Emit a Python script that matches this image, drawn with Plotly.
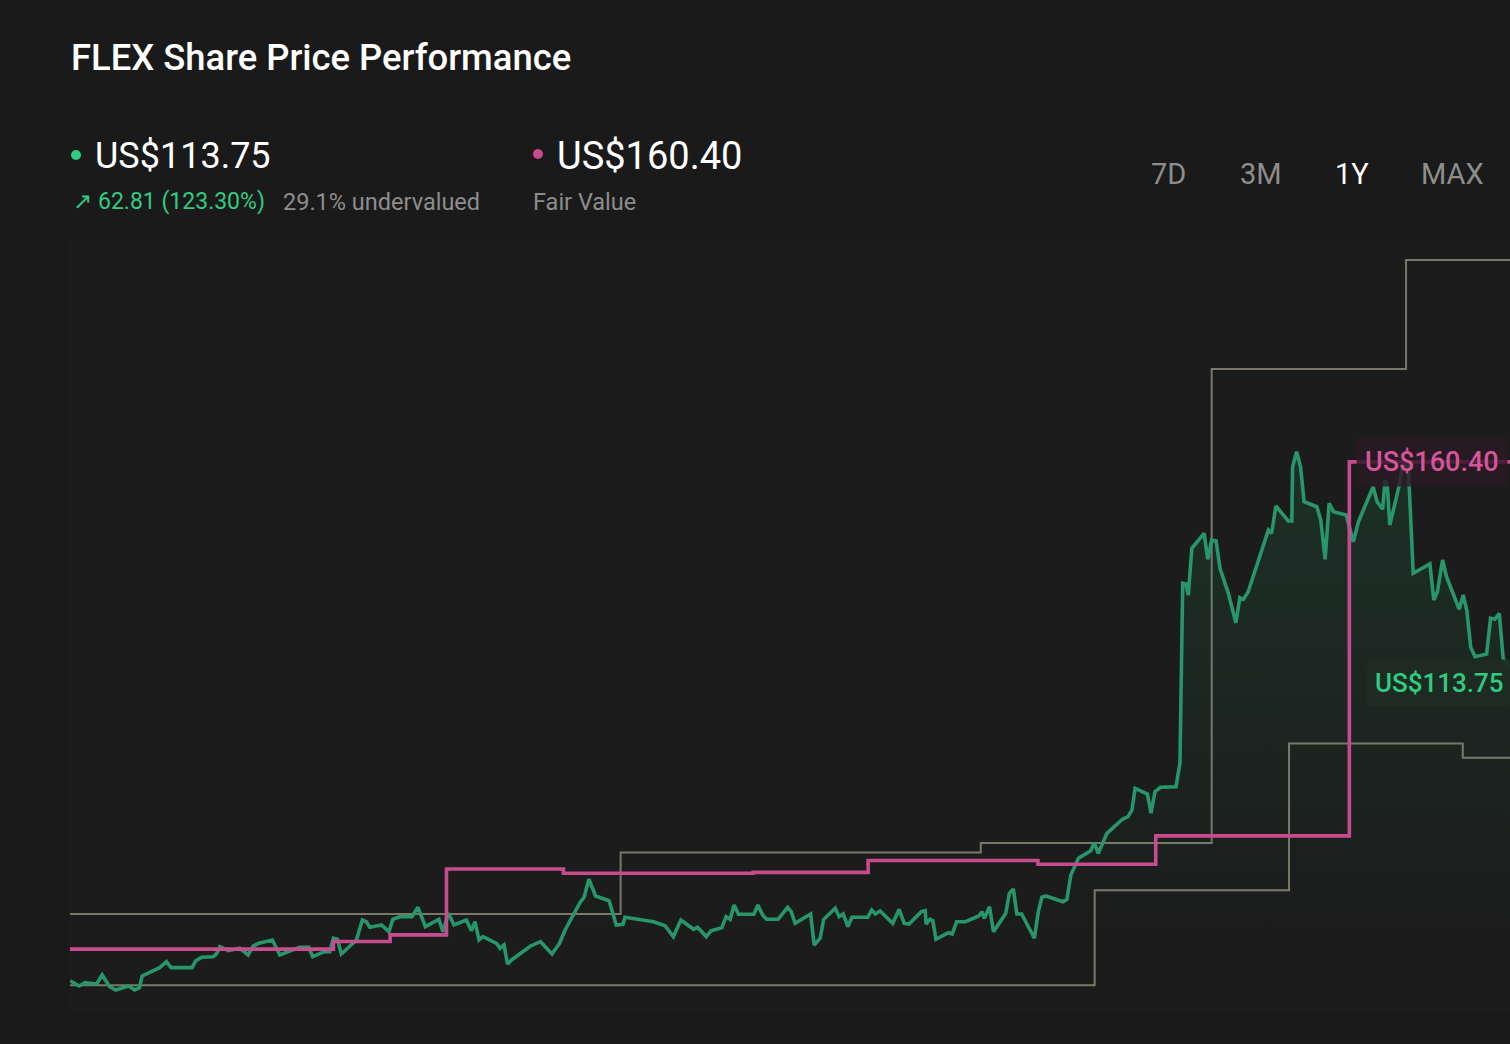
import plotly.graph_objects as go

W, H = 1510, 1044

# ---- data (day offset inside the 1-year window, value in US$) ----
price_days = [
    0.0, 2.3, 3.8, 6.7, 8.1, 10.0, 11.5, 14.8, 16.3, 17.5, 18.2, 22.6, 24.3, 25.5, 30.8,
    31.7, 33.2, 36.1, 37.0, 37.8, 39.9, 42.8, 44.9, 46.2, 47.6, 51.0, 52.9, 57.8, 60.2,
    61.2, 64.1, 65.5, 66.4, 67.4, 68.4, 72.2, 73.7, 74.7, 75.6, 78.5, 80.4, 81.4, 83.3,
    86.2, 87.7, 89.6, 93.0, 94.0, 95.4, 96.8, 99.9, 101.2, 102.1, 103.1, 104.1, 107.5,
    108.4, 109.4, 110.3, 111.3, 116.1, 118.6, 121.5, 123.4, 124.8, 128.7, 129.6, 130.8,
    132.5, 135.9, 137.7, 139.4, 139.9, 142.8, 147.1, 150.0, 152.1, 154.0, 157.2, 158.2,
    160.4, 161.6, 164.3, 165.4, 166.4, 167.4, 168.5, 172.4, 173.4, 174.6, 175.6, 178.5,
    180.9, 181.8, 182.8, 186.7, 187.6, 189.1, 190.0, 192.9, 193.9, 194.9, 196.1, 197.1,
    201.1, 202.1, 203.0, 204.2, 207.4, 209.0, 210.3, 211.5, 214.6, 215.6, 215.8, 216.8,
    217.5, 218.3, 221.4, 222.4, 223.5, 225.7, 229.1, 229.9, 230.5, 231.8, 232.8, 235.9,
    236.8, 237.8, 238.7, 239.9, 243.1, 244.1, 245.0, 246.0, 250.3, 251.3, 252.3, 254.2,
    257.3, 258.2, 259.2, 261.4, 265.3, 266.7, 267.7, 268.5, 271.6, 272.5, 273.5, 274.9,
    278.8, 279.8, 280.5, 281.3, 281.9, 282.8, 285.9, 286.8, 287.8, 288.9, 289.9, 292.0,
    293.9, 294.9, 295.8, 297.0, 302.1, 302.9, 304.0, 307.1, 308.0, 308.2, 309.2, 310.2,
    311.1, 314.3, 315.3, 316.4, 317.4, 318.5, 321.7, 322.5, 323.5, 324.8, 328.5, 329.5,
    330.9, 331.5, 332.1, 332.7, 335.1, 335.7, 337.3, 338.6, 342.8, 343.8, 344.7, 346.0,
    347.0, 350.2, 351.2, 352.1, 353.1, 354.2, 357.1, 358.1, 359.2, 360.3, 361.3, 363.0,
    365.0,
]
price_values = [
    50.94, 49.83, 50.52, 50.25, 52.15, 49.68, 48.98, 49.83, 48.98, 49.47, 51.94, 53.69,
    54.95, 53.69, 53.69, 55.16, 55.88, 56.00, 56.72, 58.12, 57.27, 57.78, 56.37, 58.27,
    58.83, 59.53, 56.37, 57.99, 57.99, 56.00, 57.06, 57.06, 59.89, 59.68, 56.58, 59.53,
    63.75, 63.39, 62.21, 62.69, 61.28, 63.90, 64.45, 64.45, 66.43, 62.34, 63.90, 61.28,
    65.16, 62.69, 63.75, 61.49, 63.39, 59.53, 60.23, 58.83, 57.78, 58.48, 54.47, 55.31,
    58.27, 59.18, 56.58, 58.83, 61.64, 67.61, 68.54, 72.34, 68.81, 67.82, 62.69, 62.84,
    64.32, 63.90, 63.39, 62.55, 60.23, 63.75, 61.79, 62.21, 60.23, 61.49, 62.13, 64.45,
    63.90, 66.91, 64.95, 64.95, 66.91, 64.80, 63.90, 63.90, 66.43, 65.50, 63.05, 65.02,
    58.48, 59.89, 63.90, 66.22, 64.45, 65.02, 62.34, 64.32, 64.32, 65.86, 65.02, 65.65,
    63.05, 66.01, 63.05, 62.91, 65.50, 65.71, 62.91, 63.90, 63.61, 59.68, 61.07, 60.80,
    63.39, 63.39, 64.59, 65.50, 64.11, 66.56, 61.28, 65.16, 69.38, 70.29, 65.02, 65.02,
    59.89, 65.50, 68.54, 68.81, 67.61, 68.12, 73.26, 76.77, 78.37, 80.06, 77.82, 82.04,
    85.00, 85.54, 86.96, 91.53, 90.33, 86.26, 90.82, 91.75, 91.87, 96.81, 134.78, 134.64,
    132.31, 142.17, 145.33, 139.85, 143.92, 143.77, 137.95, 132.67, 126.47, 131.75,
    131.41, 133.01, 146.03, 145.33, 151.09, 147.93, 147.93, 159.38, 162.55, 159.38,
    152.00, 150.94, 148.14, 139.85, 151.66, 149.89, 149.19, 146.72, 143.56, 147.78,
    155.16, 152.00, 150.40, 156.58, 155.16, 147.08, 155.52, 158.69, 160.50, 136.89,
    138.86, 131.26, 133.01, 139.70, 136.18, 129.30, 132.31, 129.15, 121.28, 119.30,
    119.87, 127.40, 127.19, 128.45, 118.75, 117.55, 113.75,
]

fair_value_days = [0, 66.4, 80.7, 94.9, 124.4, 172.2, 201.2, 244.0, 273.7, 322.5, 365]
fair_value_values = [57.6, 59.2, 60.6, 74.5, 73.6, 73.8, 76.3, 75.5, 81.5, 160.4, 160.4]

target_high_days = [0, 138.8, 229.6, 287.8, 336.8, 365]
target_high_values = [65, 78, 80, 180, 203, 203]
target_low_days = [0, 258.3, 307.3, 351.1, 365]
target_low_values = [50, 70, 101, 98, 98]

last_price = 113.75
fair_value = 160.40
price_change = "62.81 (123.30%)"
valuation_text = "29.1% undervalued"
period_buttons = ["7D", "3M", "1Y", "MAX"]
active_button = "1Y"

# ---- styling ----
BG = "#1a1a1a"
PLOT_BG = "#1b1c1b"
GREEN_LINE = "#27966a"
GREEN_TEXT = "#2fcc82"
PINK = "#c84b8f"
GREY_LINE = "#7b786a"
GREY_TEXT = "#8d8d8d"
FONT = "Roboto"


def px(x):
    return x / W


def py(y):
    return 1 - y / H


fig = go.Figure()

fig.add_trace(go.Scatter(
    x=target_high_days, y=target_high_values, mode="lines",
    line=dict(color=GREY_LINE, width=2, shape="hv"), hoverinfo="skip",
))
fig.add_trace(go.Scatter(
    x=target_low_days, y=target_low_values, mode="lines",
    line=dict(color=GREY_LINE, width=2, shape="hv"), hoverinfo="skip",
))
fig.add_trace(go.Scatter(
    x=price_days, y=price_values, mode="lines",
    line=dict(color=GREEN_LINE, width=3.6),
    fill="tozeroy",
    fillgradient=dict(
        type="vertical",
        colorscale=[[0, "rgba(39,150,106,0)"], [1, "rgba(39,150,106,0.17)"]],
        start=60, stop=165,
    ),
    hoverinfo="skip",
))
fig.add_trace(go.Scatter(
    x=fair_value_days, y=fair_value_values, mode="lines",
    line=dict(color=PINK, width=3.6, shape="hv"), hoverinfo="skip",
))

annotations = []


def text(s, x, y, size, color, anchor="left", weight=400, **kw):
    annotations.append(dict(
        text=s, x=px(x), y=py(y), xref="paper", yref="paper",
        xanchor=anchor, yanchor="middle", showarrow=False,
        font=dict(family=FONT, size=size, color=color, weight=weight), **kw,
    ))


text("FLEX Share Price Performance", 69, 57, 36.4, "#ffffff", weight=500)
text(f"US${last_price:.2f}", 93, 156, 36, "#ffffff")
text(f"US${fair_value:.2f}", 555, 156, 38, "#ffffff")
text("↗", 71, 202, 23, GREEN_TEXT)
text(price_change, 96, 202, 23, GREEN_TEXT)
text(valuation_text, 281, 202, 23.5, GREY_TEXT)
text("Fair Value", 531, 202, 23.5, GREY_TEXT)
for label, cx in zip(period_buttons, [1168, 1261, 1352, 1452]):
    text(label, cx, 174, 29, "#ffffff" if label == active_button else GREY_TEXT, anchor="center")

# value labels on the right
annotations.append(dict(
    text=f"US${fair_value:.2f}", x=324.2, y=fair_value, xref="x", yref="y",
    xanchor="left", yanchor="middle", showarrow=False,
    font=dict(family=FONT, size=27, color="#d4559a", weight=500),
    bgcolor="rgba(44,26,38,0.82)", borderpad=8,
))
annotations.append(dict(
    text=f"US${last_price:.2f}", x=326.7, y=last_price, xref="x", yref="y",
    xanchor="left", yanchor="middle", showarrow=False,
    font=dict(family=FONT, size=26, color=GREEN_TEXT, weight=500),
    bgcolor="rgba(29,43,35,0.92)", borderpad=8,
))

shapes = [
    dict(type="circle", xref="paper", yref="paper",
         x0=px(71), x1=px(81), y0=py(160), y1=py(150),
         fillcolor=GREEN_TEXT, line=dict(width=0)),
    dict(type="circle", xref="paper", yref="paper",
         x0=px(533), x1=px(543), y0=py(159), y1=py(149),
         fillcolor=PINK, line=dict(width=0)),
]

fig.update_layout(
    width=W, height=H,
    margin=dict(l=0, r=0, t=0, b=0),
    paper_bgcolor=BG, plot_bgcolor=PLOT_BG,
    showlegend=False,
    annotations=annotations, shapes=shapes,
    xaxis=dict(domain=[70 / W, 1], range=[0, 363.0], visible=False, fixedrange=True),
    yaxis=dict(domain=[1 - 1010 / H, 1 - 240 / H], range=[44.76, 207.21],
               visible=False, fixedrange=True),
)

fig.write_html(
    "out.html",
    config={"displayModeBar": False},
    post_script="document.body.style.margin='0';document.body.style.background='#1a1a1a';document.body.style.overflow='hidden';",
)
